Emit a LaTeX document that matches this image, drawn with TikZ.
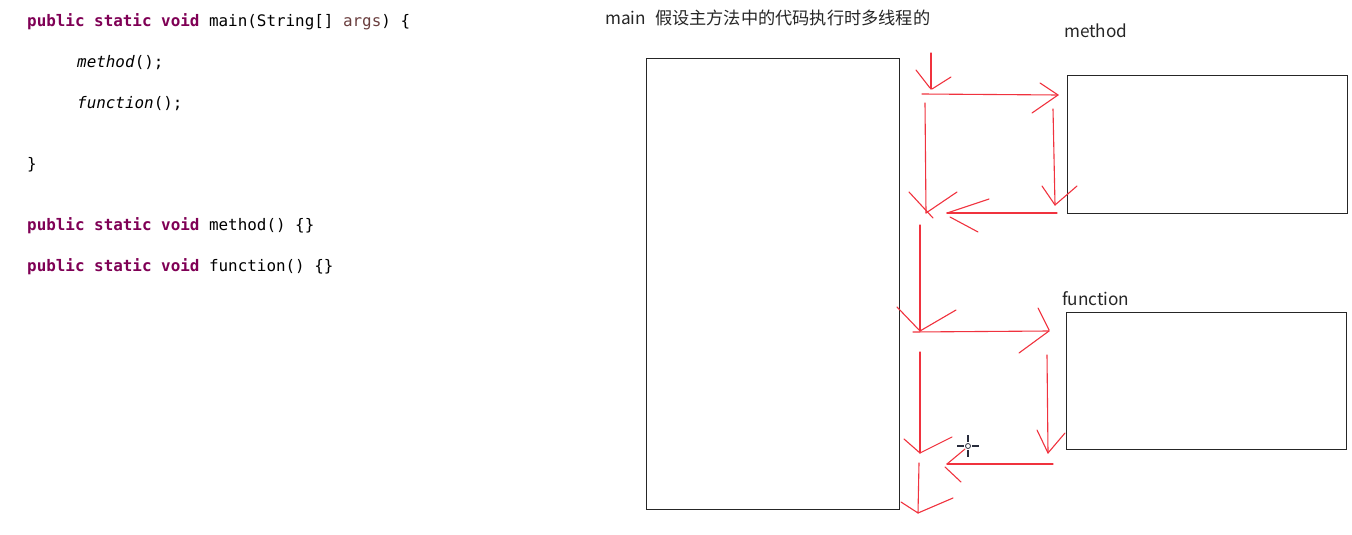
\documentclass[tikz,border=0pt]{standalone}
\usepackage{fontspec}
\setmonofont{DejaVu Sans Mono}
\newfontfamily\cjk{Noto Sans CJK SC}
\definecolor{kw}{RGB}{127,0,85}
\definecolor{argc}{RGB}{106,62,62}
\definecolor{pen}{RGB}{240,50,62}
\definecolor{cursorc}{RGB}{40,44,60}
\tikzset{
  code/.style={anchor=base west, inner sep=0pt, font=\ttfamily\fontsize{15.9}{18}\selectfont},
  lbl/.style={anchor=base west, inner sep=0pt, font=\cjk\fontsize{17.2}{20}\selectfont, text=black!85},
  box/.style={draw=black!85, line width=1.1pt, anchor=north west, inner sep=0pt},
  stroke/.style={draw=pen, line width=1.1pt, line cap=round, line join=round},
}
\newcommand{\kwd}[1]{\textcolor{kw}{\textbf{#1}}}
\begin{document}
\begin{tikzpicture}[x=1pt,y=-1pt]
\useasboundingbox (0,0) rectangle (1352,535);
% code
\node[code] (l1) at (27,26.5) {\kwd{public} \kwd{static} \kwd{void} main(String[] \textcolor{argc}{args}) \{};
\node[code] (l2) at (77,67.5) {\textit{method}();};
\node[code] (l3) at (77,108.5) {\textit{function}();};
\node[code] (l4) at (27,169.5) {\}};
\node[code] (l5) at (27,230) {\kwd{public} \kwd{static} \kwd{void} method() \{\}};
\node[code] (l6) at (27,271) {\kwd{public} \kwd{static} \kwd{void} function() \{\}};
% labels
\node[lbl] (tmain) at (605,25) {main\hspace{9pt}假设主方法中的代码执行时多线程的};
\node[lbl] (tmethod) at (1064,38) {method};
\node[lbl] (tfunc) at (1062,305.5) {function};
% boxes
\node[box, minimum width=253pt, minimum height=451pt] (mainbox) at (646,58) {};
\node[box, minimum width=280pt, minimum height=138pt] (methodbox) at (1067,75) {};
\node[box, minimum width=280pt, minimum height=137pt] (funcbox) at (1066,312) {};
% arrows: shafts
\coordinate (a1s) at (931,53);  \coordinate (a1e) at (931,89);
\coordinate (a2s) at (922,94);  \coordinate (a2e) at (1058,95);
\coordinate (a3s) at (925,103); \coordinate (a3e) at (926,213);
\coordinate (a4s) at (1053,109);\coordinate (a4e) at (1055,205);
\coordinate (a5s) at (1057,213);\coordinate (a5e) at (947,213);
\coordinate (a6s) at (920,225); \coordinate (a6e) at (920,331);
\coordinate (a7s) at (913,332); \coordinate (a7e) at (1049,331);
\coordinate (a8s) at (920,352); \coordinate (a8e) at (920,453);
\coordinate (a9s) at (1047,355);\coordinate (a9e) at (1048,453);
\coordinate (a10s) at (1053,464);\coordinate (a10e) at (947,464);
\coordinate (a11s) at (919,463);\coordinate (a11e) at (918,513);
\foreach \i in {1,...,11} \draw[stroke] (a\i s) -- (a\i e);
% arrow heads (hand drawn)
\draw[stroke] (916,70) -- (930,88) (951,77) -- (932,89);
\draw[stroke] (1040,83) -- (a2e) -- (1032,113);
\draw[stroke] (909,192) -- (933,218) (957,192) -- (a3e);
\draw[stroke] (1042,186) -- (a4e) -- (1077,186);
\draw[stroke] (989,199) -- (a5e) (950,217) -- (978,232);
\draw[stroke] (897,307) -- (a6e) -- (956,310);
\draw[stroke] (1038,308) -- (1049,330) (1019,353) -- (a7e);
\draw[stroke] (904,439) -- (a8e) -- (952,437);
\draw[stroke] (1037,430) -- (a9e) -- (1065,433);
\draw[stroke] (965,449) -- (a10e) (945,467) -- (961,482);
\draw[stroke] (901,502) -- (a11e) -- (953,498);
% cursor
\draw[cursorc, line width=1.4pt] (957,446) -- (964,446) (972,446) -- (979,446)
  (968,435) -- (968,442) (968,450) -- (968,457);
\draw[cursorc, line width=0.8pt] (968,446) circle (2.5pt);
\end{tikzpicture}
\end{document}
